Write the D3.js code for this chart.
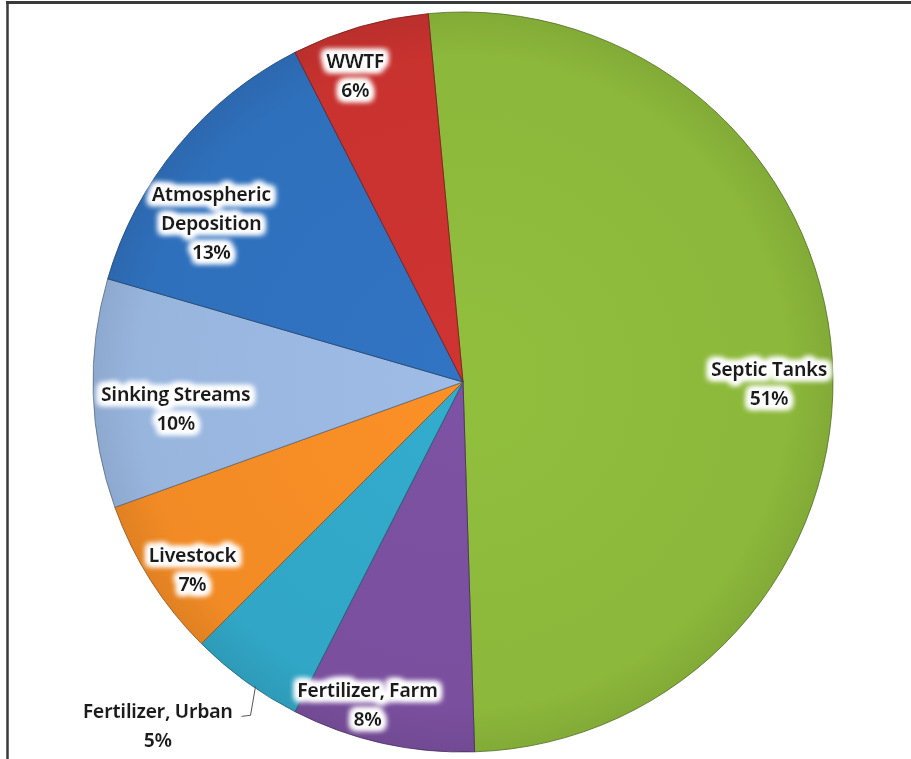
<!DOCTYPE html>
<html>
<head>
<meta charset="utf-8">
<script src="https://cdn.jsdelivr.net/npm/d3@7"></script>
<style>
  body { margin: 0; background: #fff; }
  svg { display: block; }
</style>
</head>
<body>
<div id="chart-container"></div>
<script>
// Slices, clockwise from the top
const categories = ["Septic Tanks", "Fertilizer, Farm", "Fertilizer, Urban", "Livestock", "Sinking Streams", "Atmospheric Deposition", "WWTF"];
const values = [51, 8, 5, 7, 10, 13, 6];
const colors = ["#8cb83b", "#7a4f9e", "#31a6c6", "#f28b25", "#98b5de", "#2f70bc", "#c8322f"];
// label lines as drawn on the chart
const labelLines = [
  ["Septic Tanks"],
  ["Fertilizer, Farm"],
  ["Fertilizer, Urban"],
  ["Livestock"],
  ["Sinking Streams"],
  ["Atmospheric", "Deposition"],
  ["WWTF"]
];

const width = 911;
const height = 759;
const cx = 463;
const cy = 382;
const radius = 370;
const startAngle = -5.4 * Math.PI / 180;

// label anchor: [angle in degrees from 12 o'clock, fraction of radius]
const labelAnchor = [[90.2, 0.827], [196.5, 0.91], [221.6, 1.243], [-124.7, 0.89], [-95.2, 0.78], [-57.7, 0.805], [-19.4, 0.877]];

const data = categories.map((c, i) => ({ name: c, value: values[i], color: colors[i], lines: labelLines[i] }));

const svg = d3.select("#chart-container")
  .append("svg")
  .attr("width", width)
  .attr("height", height);

const defs = svg.append("defs");

// white glow behind labels
const glow = defs.append("filter").attr("id", "glow")
  .attr("x", "-20%").attr("y", "-40%").attr("width", "140%").attr("height", "180%");
glow.append("feMorphology").attr("in", "SourceAlpha").attr("operator", "dilate").attr("radius", 3).attr("result", "d");
glow.append("feGaussianBlur").attr("in", "d").attr("stdDeviation", 3).attr("result", "b");
glow.append("feFlood").attr("flood-color", "#fff");
glow.append("feComposite").attr("in2", "b").attr("operator", "in").attr("result", "w");
const merge = glow.append("feMerge");
merge.append("feMergeNode").attr("in", "w");
merge.append("feMergeNode").attr("in", "w");
merge.append("feMergeNode").attr("in", "w");
merge.append("feMergeNode").attr("in", "SourceGraphic");

// soft shading gradient per slice (centred on the pie's own origin)
data.forEach((d, i) => {
  const g = defs.append("radialGradient").attr("id", "grad" + i)
    .attr("gradientUnits", "userSpaceOnUse")
    .attr("cx", 0).attr("cy", 0).attr("r", radius);
  const c = d3.color(d.color);
  g.append("stop").attr("offset", "0%").attr("stop-color", c.brighter(0.1));
  g.append("stop").attr("offset", "88%").attr("stop-color", c);
  g.append("stop").attr("offset", "100%").attr("stop-color", c.darker(0.2));
});

// frame (top and left edges visible)
svg.append("line").attr("x1", 6).attr("x2", width).attr("y1", 2.5).attr("y2", 2.5)
  .attr("stroke", "#3a3a3a").attr("stroke-width", 3);
svg.append("line").attr("x1", 7.5).attr("x2", 7.5).attr("y1", 1).attr("y2", height)
  .attr("stroke", "#3a3a3a").attr("stroke-width", 2.5);

const pie = d3.pie()
  .value(d => d.value)
  .sort(null)
  .startAngle(startAngle)
  .endAngle(startAngle + 2 * Math.PI);

const arc = d3.arc().innerRadius(0).outerRadius(radius);

const arcs = pie(data);

const g = svg.append("g").attr("transform", `translate(${cx},${cy})`);

g.selectAll("path")
  .data(arcs)
  .join("path")
  .attr("d", arc)
  .attr("fill", (d, i) => `url(#grad${i})`)
  .attr("stroke", d => d3.color(d.data.color).darker(1.5))
  .attr("stroke-width", 1)
  .attr("stroke-opacity", 0.8);

const lineH = 29;

const labels = svg.append("g")
  .attr("font-family", "'Open Sans', sans-serif")
  .attr("font-weight", 700)
  .attr("font-size", 19.5)
  .attr("letter-spacing", -0.5)
  .attr("fill", "#1a1a1a")
  .attr("text-anchor", "middle")
  .attr("filter", "url(#glow)");

arcs.forEach((a, i) => {
  const ang = labelAnchor[i][0] * Math.PI / 180;
  const r = radius * labelAnchor[i][1];
  const x = cx + r * Math.sin(ang);
  const y = cy - r * Math.cos(ang);
  const lines = a.data.lines.concat([a.data.value + "%"]);
  const t = labels.append("text");
  lines.forEach((ln, k) => {
    t.append("tspan")
      .attr("x", x)
      .attr("y", y + (k - (lines.length - 1) / 2) * lineH + 7)
      .text(ln);
  });
});

// leader line for Fertilizer, Urban
const urban = arcs[2];
const um = (urban.startAngle + urban.endAngle) / 2;
const ex = cx + radius * Math.sin(um);
const ey = cy - radius * Math.cos(um);
svg.append("path")
  .attr("d", `M${ex + 10},${ey + 5} L${ex + 5},${ey + 34} L${ex - 4},${ey + 35}`)
  .attr("fill", "none")
  .attr("stroke", "#555")
  .attr("stroke-width", 1);
</script>
</body>
</html>
